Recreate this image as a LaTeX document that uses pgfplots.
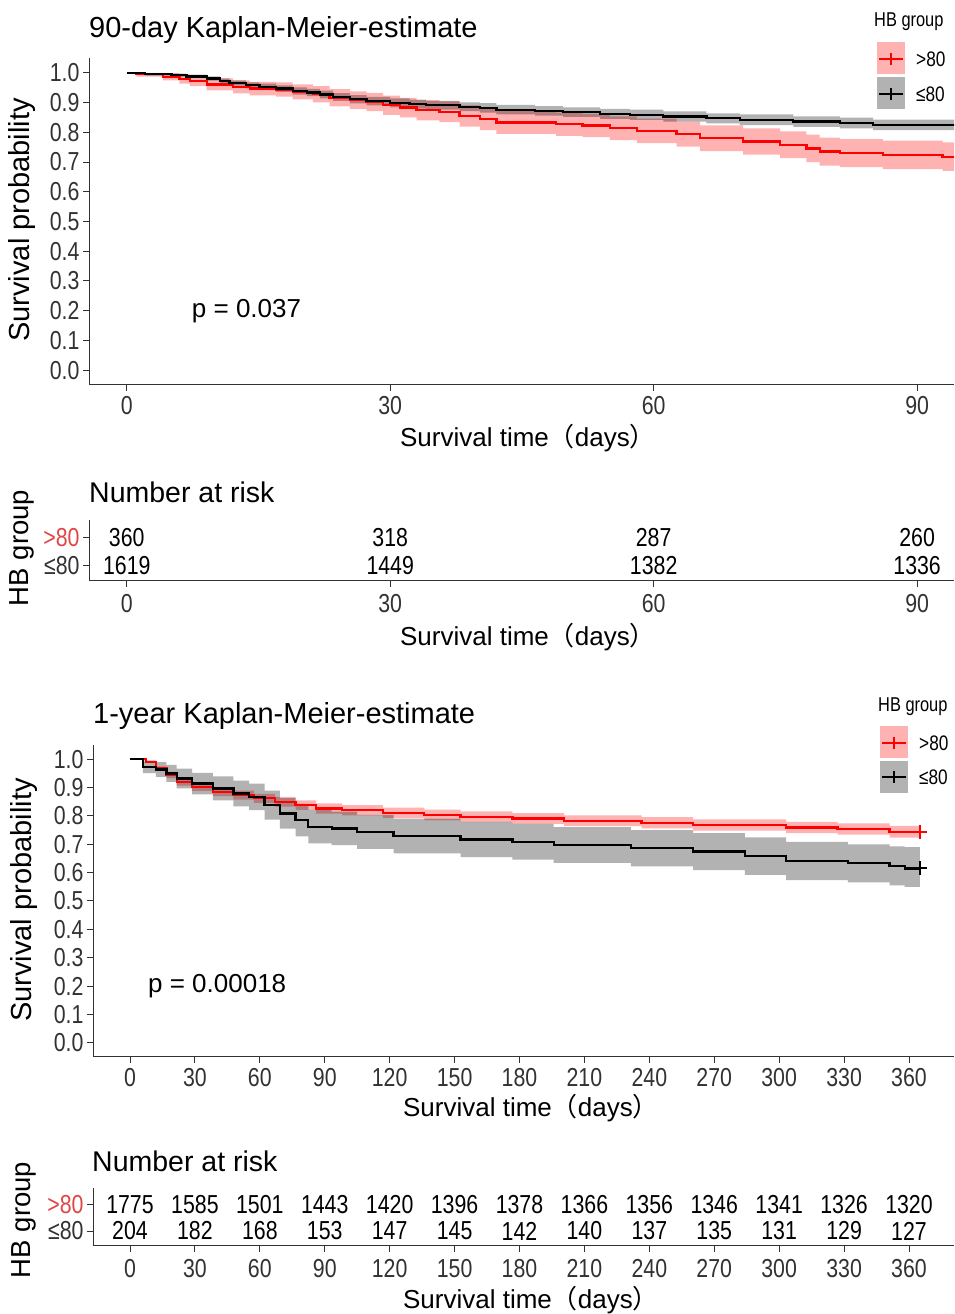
\documentclass[border=0pt]{standalone}
\usepackage{pgfplots}
\pgfplotsset{compat=1.18}
\usepackage{pgfplotstable}
\usepackage{fontspec}
\setmainfont{Liberation Sans}
\newfontfamily\nar{Liberation Sans}[FakeStretch=0.82]
\newfontfamily\cjk{Noto Sans CJK SC}
\newcommand\fs[1]{\fontsize{#1}{#1}\selectfont}
\definecolor{rkred}{RGB}{225,70,70}
\definecolor{tk}{RGB}{50,50,50}

% ===== 90-day, HB <=80 =====
\pgfplotstableread{
x y
0 1.000
2.1 0.995
5.1 0.992
6.8 0.988
9.1 0.981
10.6 0.973
11.7 0.966
13.6 0.958
15.1 0.953
17.0 0.947
18.9 0.939
20.5 0.934
22.0 0.927
23.5 0.919
25.4 0.911
27.3 0.905
30.0 0.899
32.2 0.895
34.1 0.891
37.9 0.886
40.2 0.882
42.1 0.876
46.5 0.872
49.7 0.868
53.9 0.862
57.3 0.859
61.1 0.853
66.0 0.847
69.8 0.842
75.9 0.836
81.2 0.831
85.0 0.825
96 0.825
}\ShortLe
% band outline: upper limits forward, lower limits backward
\pgfplotstableread{
x b
0 1.000
2.1 0.999
5.1 0.997
6.8 0.994
9.1 0.988
10.6 0.981
11.7 0.975
13.6 0.968
15.1 0.964
17.0 0.958
18.9 0.951
20.5 0.946
22.0 0.940
23.5 0.932
25.4 0.925
27.3 0.919
30.0 0.914
32.2 0.910
34.1 0.906
37.9 0.901
40.2 0.898
42.1 0.892
46.5 0.888
49.7 0.884
53.9 0.879
57.3 0.876
61.1 0.870
66.0 0.864
69.8 0.860
75.9 0.854
81.2 0.849
85.0 0.843
96 0.843
96 0.807
96 0.807
85.0 0.813
81.2 0.818
75.9 0.824
69.8 0.830
66.0 0.836
61.1 0.842
57.3 0.845
53.9 0.852
49.7 0.856
46.5 0.860
42.1 0.866
40.2 0.871
37.9 0.876
34.1 0.880
32.2 0.884
30.0 0.891
27.3 0.897
25.4 0.906
23.5 0.914
22.0 0.922
20.5 0.927
18.9 0.936
17.0 0.942
15.1 0.948
13.6 0.957
11.7 0.965
10.6 0.974
9.1 0.982
6.8 0.987
5.1 0.991
2.1 1.000
0 1.000
}\ShortLeBand
% ===== 90-day, HB >80 =====
\pgfplotstableread{
x y
0 1.000
1.1 0.995
4.1 0.987
6.0 0.979
7.2 0.972
9.1 0.961
12.1 0.953
14.0 0.947
17.0 0.944
18.9 0.936
21.2 0.928
23.1 0.916
25.4 0.908
27.3 0.902
29.2 0.891
31.1 0.883
33.0 0.874
35.6 0.869
37.9 0.855
40.2 0.844
42.1 0.833
48.9 0.827
51.9 0.823
55.0 0.814
58.1 0.805
62.6 0.794
65.3 0.780
70.2 0.769
74.4 0.758
77.4 0.746
78.9 0.735
81.2 0.730
86.1 0.724
92.9 0.718
96 0.718
}\ShortGt
\pgfplotstableread{
x b
0 1.000
1.1 1.000
4.1 0.999
6.0 0.994
7.2 0.989
9.1 0.981
12.1 0.975
14.0 0.970
17.0 0.968
18.9 0.961
21.2 0.955
23.1 0.945
25.4 0.938
27.3 0.933
29.2 0.923
31.1 0.916
33.0 0.908
35.6 0.904
37.9 0.891
40.2 0.881
42.1 0.871
48.9 0.866
51.9 0.862
55.0 0.854
58.1 0.846
62.6 0.836
65.3 0.823
70.2 0.813
74.4 0.803
77.4 0.792
78.9 0.782
81.2 0.777
86.1 0.772
92.9 0.766
96 0.766
96 0.670
96 0.670
92.9 0.676
86.1 0.683
81.2 0.688
78.9 0.700
77.4 0.713
74.4 0.725
70.2 0.737
65.3 0.752
62.6 0.764
58.1 0.774
55.0 0.784
51.9 0.788
48.9 0.795
42.1 0.807
40.2 0.819
37.9 0.834
35.6 0.840
33.0 0.850
31.1 0.859
29.2 0.871
27.3 0.878
25.4 0.887
23.1 0.901
21.2 0.911
18.9 0.920
17.0 0.924
14.0 0.931
12.1 0.941
9.1 0.955
7.2 0.964
6.0 0.975
4.1 0.987
1.1 1.000
0 1.000
}\ShortGtBand
% ===== 1-year, HB >80 =====
\pgfplotstableread{
x y
0 1.000
7.3 0.991
12 0.967
16.8 0.944
21.6 0.920
28.7 0.902
38.3 0.885
47.8 0.873
57.3 0.862
66.9 0.850
76.5 0.838
86 0.826
98 0.820
116.9 0.811
136 0.803
152.8 0.797
176.7 0.791
200.6 0.783
236.4 0.776
260.2 0.768
303.2 0.759
327 0.754
351 0.744
365 0.744
}\LongGt
\pgfplotstableread{
x b
0 1.000
7.3 0.995
12 0.975
16.8 0.955
21.6 0.933
28.7 0.916
38.3 0.900
47.8 0.889
57.3 0.878
66.9 0.867
76.5 0.855
86 0.844
98 0.838
116.9 0.829
136 0.822
152.8 0.816
176.7 0.810
200.6 0.802
236.4 0.796
260.2 0.788
303.2 0.779
327 0.774
351 0.765
365 0.765
365 0.723
365 0.723
351 0.734
327 0.739
303.2 0.748
260.2 0.756
236.4 0.764
200.6 0.772
176.7 0.778
152.8 0.784
136 0.793
116.9 0.802
98 0.808
86 0.821
76.5 0.833
66.9 0.846
57.3 0.857
47.8 0.870
38.3 0.888
28.7 0.907
21.6 0.933
16.8 0.959
12 0.987
7.3 1.000
0 1.000
}\LongGtBand
% ===== 1-year, HB <=80 =====
\pgfplotstableread{
x y
0 1.000
6 0.973
12 0.964
16.8 0.950
21.6 0.932
28.7 0.914
38.3 0.897
47.8 0.879
55 0.867
62.2 0.838
69.3 0.809
76.5 0.785
82.4 0.762
93.2 0.756
105 0.744
121.8 0.729
152.8 0.717
176.7 0.709
195.8 0.697
231.5 0.686
260.2 0.674
284.1 0.658
303.2 0.641
331.8 0.633
351 0.623
358 0.615
365 0.615
}\LongLe
\pgfplotstableread{
x b
0 1.000
6 0.995
12 0.990
16.8 0.980
21.6 0.967
28.7 0.952
38.3 0.939
47.8 0.924
55 0.914
62.2 0.889
69.3 0.863
76.5 0.842
82.4 0.821
93.2 0.815
105 0.804
121.8 0.790
152.8 0.779
176.7 0.772
195.8 0.760
231.5 0.750
260.2 0.739
284.1 0.724
303.2 0.708
331.8 0.700
351 0.693
358 0.690
365 0.690
365 0.550
365 0.550
358 0.555
351 0.566
331.8 0.574
303.2 0.592
284.1 0.609
260.2 0.622
231.5 0.634
195.8 0.646
176.7 0.655
152.8 0.668
121.8 0.684
105 0.697
93.2 0.703
82.4 0.728
76.5 0.755
69.3 0.787
62.2 0.820
55 0.834
47.8 0.855
38.3 0.876
28.7 0.897
21.6 0.920
16.8 0.938
12 0.951
6 1.000
0 1.000
}\LongLeBand

\pgfplotsset{
  base/.style={
    scale only axis, clip=true,
    axis x line*=bottom, axis y line*=left,
    axis line style={tk, line width=1pt, -},
    tick style={tk, line width=1pt},
    major tick length=6pt, tick align=outside,
    ticklabel style={font=\nar\fs{26}, text=tk},
    /pgf/number format/assume math mode=true,
  },
  km/.style={base,
    ymin=-0.05, ymax=1.05,
    ytick={0,0.1,0.2,0.3,0.4,0.5,0.6,0.7,0.8,0.9,1.0},
    yticklabels={0.0,0.1,0.2,0.3,0.4,0.5,0.6,0.7,0.8,0.9,1.0},
    xticklabel style={yshift=-2pt},
  },
  rt/.style={base,
    ytick={1,2},
    yticklabels={≤80,\textcolor{rkred}{>80}},
    xticklabel style={yshift=-4pt},
  },
  num/.style={draw=none, mark=none, nodes near coords, point meta=explicit symbolic,
    every node near coord/.append style={anchor=center, inner sep=0pt, font=\nar\fs{26}, text=black}},
  band/.style={const plot, draw=none, fill=#1, fill opacity=0.3},
}

\begin{document}
\begin{tikzpicture}
\useasboundingbox (0pt,0pt) rectangle (954pt,1314pt);

% ---------------- 90-day KM ----------------
\begin{axis}[km, at={(89pt,929pt)}, anchor=south west, width=865pt, height=327pt,
  xmin=-4.3, xmax=94.2, xtick={0,30,60,90}]
\addplot[band=red] table[x=x,y=b] {\ShortGtBand};
\addplot[band=black] table[x=x,y=b] {\ShortLeBand};
\addplot[const plot, red, line width=2.3pt] table[x=x,y=y] {\ShortGt};
\addplot[const plot, black, line width=2.3pt] table[x=x,y=y] {\ShortLe};
\node[anchor=west, inner sep=0pt, font=\fs{26}] at (axis cs:7.4,0.2) {p = 0.037};
\end{axis}

% ---------------- 90-day risk table ----------------
\begin{axis}[rt, at={(89pt,733pt)}, anchor=south west, width=865pt, height=61pt,
  xmin=-4.3, xmax=94.2, ymin=0.46, ymax=2.64, xtick={0,30,60,90}]
\addplot[num] coordinates {(0,2)[360] (30,2)[318] (60,2)[287] (90,2)[260]};
\addplot[num] coordinates {(0,1)[1619] (30,1)[1449] (60,1)[1382] (90,1)[1336]};
\end{axis}

% ---------------- 1-year KM ----------------
\begin{axis}[km, at={(93pt,257pt)}, anchor=south west, width=861pt, height=312pt,
  xmin=-17.1, xmax=380.8, xtick={0,30,...,360}]
\addplot[band=red] table[x=x,y=b] {\LongGtBand};
\addplot[band=black] table[x=x,y=b] {\LongLeBand};
\addplot[const plot, red, line width=2.3pt] table[x=x,y=y] {\LongGt};
\addplot[const plot, black, line width=2.3pt] table[x=x,y=y] {\LongLe};
\addplot[only marks, red, mark=+, mark size=7pt, line width=2pt] coordinates {(365,0.744)};
\addplot[only marks, black, mark=+, mark size=7pt, line width=2pt] coordinates {(365,0.615)};
\node[anchor=west, inner sep=0pt, font=\fs{26}] at (axis cs:8.3,0.2) {p = 0.00018};
\end{axis}

% ---------------- 1-year risk table ----------------
\begin{axis}[rt, at={(93pt,68pt)}, anchor=south west, width=861pt, height=58pt,
  xmin=-17.1, xmax=380.8, ymin=0.43, ymax=2.64, xtick={0,30,...,360}]
\addplot[num] coordinates {(0,2)[1775] (30,2)[1585] (60,2)[1501] (90,2)[1443] (120,2)[1420] (150,2)[1396] (180,2)[1378] (210,2)[1366] (240,2)[1356] (270,2)[1346] (300,2)[1341] (330,2)[1326] (360,2)[1320]};
\addplot[num] coordinates {(0,1)[204] (30,1)[182] (60,1)[168] (90,1)[153] (120,1)[147] (150,1)[145] (180,1)[142] (210,1)[140] (240,1)[137] (270,1)[135] (300,1)[131] (330,1)[129] (360,1)[127]};
\end{axis}

% ---------------- texts ----------------
\node[anchor=west, inner sep=0pt, font=\fs{29}] at (89pt,1284pt) {90-day Kaplan-Meier-estimate};
\node[rotate=90, inner sep=0pt, font=\fs{29}] at (22pt,1094pt) {Survival probability};
\node[inner sep=0pt, font=\fs{26}] at (528pt,876pt) {Survival time{\cjk（}days{\cjk）}};
\node[anchor=west, inner sep=0pt, font=\fs{28.5}] at (89pt,822pt) {Number at risk};
\node[rotate=90, inner sep=0pt, font=\fs{27.5}] at (22pt,766pt) {HB group};
\node[inner sep=0pt, font=\fs{26}] at (528pt,677pt) {Survival time{\cjk（}days{\cjk）}};

\node[anchor=west, inner sep=0pt, font=\fs{29}] at (93pt,598pt) {1-year Kaplan-Meier-estimate};
\node[rotate=90, inner sep=0pt, font=\fs{29}] at (24pt,414pt) {Survival probability};
\node[inner sep=0pt, font=\fs{26}] at (531pt,206pt) {Survival time{\cjk（}days{\cjk）}};
\node[anchor=west, inner sep=0pt, font=\fs{28.5}] at (92pt,153pt) {Number at risk};
\node[rotate=90, inner sep=0pt, font=\fs{27.5}] at (24pt,94pt) {HB group};
\node[inner sep=0pt, font=\fs{26}] at (531pt,14pt) {Survival time{\cjk（}days{\cjk）}};

% ---------------- legends ----------------
\node[anchor=west, inner sep=0pt, font=\nar\fs{20}] at (874pt,1292pt) {HB group};
\fill[red, opacity=0.3] (877pt,1240pt) rectangle (905pt,1272pt);
\draw[red, line width=2.5pt] (879pt,1255pt)--(903pt,1255pt) (891pt,1249pt)--(891pt,1261pt);
\node[anchor=west, inner sep=0pt, font=\nar\fs{21}] at (916pt,1255pt) {>80};
\fill[black, opacity=0.3] (877pt,1205pt) rectangle (905pt,1237pt);
\draw[black, line width=2.5pt] (879pt,1220pt)--(903pt,1220pt) (891pt,1214pt)--(891pt,1226pt);
\node[anchor=west, inner sep=0pt, font=\nar\fs{21}] at (916pt,1220pt) {≤80};

\node[anchor=west, inner sep=0pt, font=\nar\fs{20}] at (878pt,607pt) {HB group};
\fill[red, opacity=0.3] (880pt,556pt) rectangle (908pt,588pt);
\draw[red, line width=2.5pt] (882pt,571pt)--(906pt,571pt) (894pt,565pt)--(894pt,577pt);
\node[anchor=west, inner sep=0pt, font=\nar\fs{21}] at (919pt,571pt) {>80};
\fill[black, opacity=0.3] (880pt,521pt) rectangle (908pt,553pt);
\draw[black, line width=2.5pt] (882pt,537pt)--(906pt,537pt) (894pt,531pt)--(894pt,543pt);
\node[anchor=west, inner sep=0pt, font=\nar\fs{21}] at (919pt,537pt) {≤80};
\end{tikzpicture}
\end{document}
